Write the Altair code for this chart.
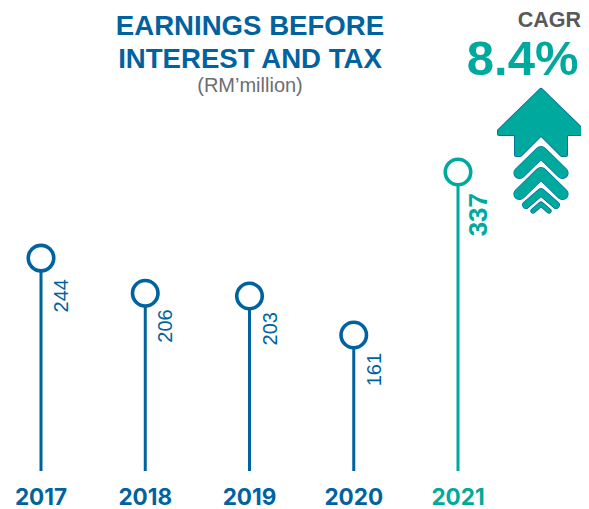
import altair as alt
import pandas as pd

years = [2017, 2018, 2019, 2020, 2021]
values = [244, 206, 203, 161, 337]
BLUE = "#00629f"
TEAL = "#00a99d"
colors = [BLUE, BLUE, BLUE, BLUE, TEAL]
weights = ["normal", "normal", "normal", "normal", "bold"]

df = pd.DataFrame({"year": years, "value": values, "c": colors})

x = alt.X("year:Q", axis=None, scale=alt.Scale(domain=[2017, 2021], range=[33, 450], nice=False, zero=False))
y = alt.Y("value:Q", axis=None, scale=alt.Scale(domain=[13, 513], range=[464, 1], nice=False, zero=False))
col = alt.Color("c:N", scale=None)

base = alt.Chart(df).encode(x=x)

rules = base.mark_rule(strokeWidth=3).encode(y=y, y2=alt.value(463), color=col)
dots = base.mark_point(shape="circle", size=650, filled=False, fill="white", fillOpacity=1, strokeWidth=3.6, opacity=1).encode(y=y, stroke=alt.Stroke("c:N", scale=None))
year_text = base.mark_text(font="Inter", fontWeight="bold", fontSize=22.5, baseline="alphabetic", align="center").encode(
    y=alt.value(496.5), text=alt.Text("year:N"), color=col)

labels = []
gaps = {244: 21, 206: 16, 203: 16, 161: 18, 337: 21}
for v, w, c in zip(values, weights, colors):
    labels.append(
        alt.Chart(df[df.value == v]).mark_text(
            font="Liberation Sans", fontSize=20 if w == "normal" else 26, fontWeight=w, angle=270,
            align="right", baseline="middle", dx=-gaps[v], dy=21, color=c
        ).encode(x=x, y=y, text=alt.Text("value:Q"))
    )

def note(txt, px, py, size, color, weight="normal", align="center"):
    return alt.Chart(pd.DataFrame({"t": [txt]})).mark_text(
        font="Liberation Sans", fontSize=size, fontWeight=weight, color=color, align=align, baseline="alphabetic"
    ).encode(x=alt.value(px), y=alt.value(py), text="t:N")

notes = [
    note("EARNINGS BEFORE", 242, 27, 27.6, BLUE, "bold"),
    note("INTEREST AND TAX", 242, 60, 27.6, BLUE, "bold"),
    note("(RM\u2019million)", 242, 84, 20, "#6d6e71"),
    note("CAGR", 573, 19, 21.5, "#58595b", "bold", "right"),
    note("8.4%", 570.5, 67, 49, TEAL, "bold", "right"),
]

# arrow icon: outline and stroke paths in px relative to the icon centre
ARROW = "M0,-59.5 L41.5,-19 L41.5,-16.5 L24.5,-16.5 L24.5,4.5 L21,4.5 L0,-16.5 L-21,4.5 L-24.5,4.5 L-24.5,-16.5 L-41.5,-16.5 L-41.5,-19 Z"
CHEVRONS = [
    ("M-21.5,23 L0,2 L21.5,23", 11),
    ("M-21.5,44 L0,23 L21.5,44", 11),
    ("M-15,55 L0,42 L15,55", 6.5),
    ("M-8,61 L0,54 L8,61", 4),
]
anchor = alt.Chart(pd.DataFrame({"k": [0]}))
pos = dict(x=alt.value(533), y=alt.value(142))
icon = []
for sw, c in [(5, BLUE), (3.6, TEAL)]:
    icon.append(anchor.mark_point(
        shape=ARROW, size=4, filled=True, fill=c, fillOpacity=1, stroke=c, strokeWidth=sw, strokeJoin="round", opacity=1
    ).encode(**pos))
for p, w in CHEVRONS:
    for sw, c in [(w + 1.2, BLUE), (w, TEAL)]:
        icon.append(anchor.mark_point(
            shape=p, size=4, filled=False, stroke=c, strokeWidth=sw, strokeJoin="round", strokeCap="round", opacity=1
        ).encode(**pos))

chart = alt.layer(rules, dots, year_text, *labels, *notes, *icon).properties(
    width=573, height=501, padding=0, autosize=alt.AutoSizeParams(type="none")
).configure_view(stroke=None)

chart.save("out.html", embed_options={"renderer": "svg", "actions": False})
